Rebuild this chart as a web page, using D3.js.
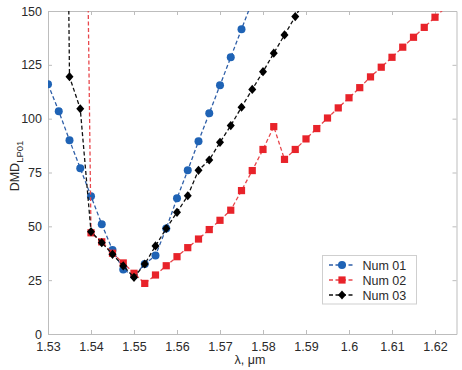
<!DOCTYPE html>
<html><head><meta charset="utf-8">
<script src="https://cdn.jsdelivr.net/npm/d3@7"></script>
<style>
html,body{margin:0;padding:0;background:#fff;}
svg text{font-family:"Liberation Sans",Arial,sans-serif;}
</style></head>
<body><svg id="c" width="462" height="370"></svg>
<script>
const xTicks = [1.53,1.54,1.55,1.56,1.57,1.58,1.59,1.60,1.61,1.62];
const xTickLabels = ["1.53","1.54","1.55","1.56","1.57","1.58","1.59","1.6","1.61","1.62"];
const yTicks = [0,25,50,75,100,125,150];

const num01X = [1.53,1.5325,1.535,1.5375,1.54,1.5425,1.545,1.5475,1.55,1.5525,1.555,1.5575,1.56,1.5625,1.565,1.5675,1.57,1.5725,1.575,1.5775];
const num01Y = [116,103.5,90,77,64,51,39,30,27,32.5,36.5,49,63,76,89.5,102.5,115.5,128.5,141.5,154.5];

const num02X = [1.5375,1.54,1.5425,1.545,1.5475,1.55,1.5525,1.555,1.5575,1.56,1.5625,1.565,1.5675,1.57,1.5725,1.575,1.5775,1.58,1.5825,1.585,1.5875,1.59,1.5925,1.595,1.5975,1.6,1.6025,1.605,1.6075,1.61,1.6125,1.615,1.6175,1.62,1.6225];
const num02Y = [450,47,42.8,37.5,33,28.2,23.5,27.4,31.7,35.9,40.1,44.1,48.5,52.8,57.5,66.6,75.9,85.7,96.3,81.1,85.7,90.6,95.4,100.3,105,109.7,114.4,119.4,123.9,128.5,133.2,137.8,142.4,147.1,151.7];

const num03X = [1.5325,1.535,1.5375,1.54,1.5425,1.545,1.5475,1.55,1.5525,1.555,1.5575,1.56,1.5625,1.565,1.5675,1.57,1.5725,1.575,1.5775,1.58,1.5825,1.585,1.5875,1.59];
const num03Y = [600,119.5,104.6,47.5,42.4,37,31.6,26.3,32.5,40.9,49,56.5,64.2,76,80.8,89,96.8,105.3,113.6,121.8,130.4,138.9,147.4,156];

const seriesNames = ["Num 01","Num 02","Num 03"];
const lineColors = ["#2f5fa8","#e8474c","#111111"];
const markerColors = ["#1f63b5","#e8232a","#000000"];
const markerTypes = ["circle","square","diamond"];

const svg = d3.select("#c");
const L=48, R=456.5, T=11, B=334;
const x = d3.scaleLinear().domain([1.53,1.625]).range([L,R]);
const y = d3.scaleLinear().domain([0,150]).range([B,T]);
const axisColor = "#bdbdbd", textColor="#2a2a2a";

svg.append("defs").append("clipPath").attr("id","clip")
  .append("rect").attr("x",L).attr("y",T).attr("width",R-L).attr("height",B-T);

// axes with inward ticks
const gB = svg.append("g").attr("transform",`translate(0,${B})`)
  .call(d3.axisBottom(x).tickValues(xTicks).tickSizeInner(-4).tickSizeOuter(0).tickPadding(8).tickFormat((d,i)=>xTickLabels[i]));
const gT = svg.append("g").attr("transform",`translate(0,${T})`)
  .call(d3.axisTop(x).tickValues(xTicks).tickSizeInner(-4).tickSizeOuter(0).tickFormat(""));
const gL = svg.append("g").attr("transform",`translate(${L},0)`)
  .call(d3.axisLeft(y).tickValues(yTicks).tickSizeInner(-4).tickSizeOuter(0).tickPadding(6));
const gR = svg.append("g").attr("transform",`translate(${R},0)`)
  .call(d3.axisRight(y).tickValues(yTicks).tickSizeInner(-4).tickSizeOuter(0).tickFormat(""));
[gB,gT,gL,gR].forEach(g=>{
  g.select(".domain").attr("stroke",axisColor).attr("stroke-width",1);
  g.selectAll(".tick line").attr("stroke",axisColor);
  g.selectAll(".tick text").attr("fill",textColor).attr("font-size",12.5)
   .attr("font-family","Liberation Sans, Arial, sans-serif");
});

const plot = svg.append("g").attr("clip-path","url(#clip)");
const data = [[num01X,num01Y],[num02X,num02Y],[num03X,num03Y]];
const line = d3.line().x(d=>x(d[0])).y(d=>y(d[1]));

function marker(g, type, cx, cy, color){
  if(type==="circle") g.append("circle").attr("cx",cx).attr("cy",cy).attr("r",4).attr("fill",color);
  else if(type==="square") g.append("rect").attr("x",cx-3.6).attr("y",cy-3.6).attr("width",7.2).attr("height",7.2).attr("fill",color);
  else g.append("path").attr("d",`M${cx},${cy-4.6}L${cx+4},${cy}L${cx},${cy+4.6}L${cx-4},${cy}Z`).attr("fill",color);
}

data.forEach((s,i)=>{
  const pts = s[0].map((v,j)=>[v,s[1][j]]);
  plot.append("path").datum(pts).attr("d",line).attr("fill","none")
    .attr("stroke",lineColors[i]).attr("stroke-width",1.3).attr("stroke-dasharray","4,2.5");
  const mg = plot.append("g");
  pts.forEach(p=>{ if(p[1]<=160) marker(mg, markerTypes[i], x(p[0]), y(p[1]), markerColors[i]); });
});

// Axis titles
svg.append("text").attr("x",250).attr("y",364).attr("text-anchor","middle")
  .attr("font-size",12.5).attr("fill",textColor).text("λ, μm");
const yt = svg.append("text").attr("transform","translate(19,166) rotate(-90)")
  .attr("text-anchor","middle").attr("font-size",12.5).attr("fill",textColor);
yt.append("tspan").text("DMD");
yt.append("tspan").attr("font-size",9.5).attr("dy",4).text("LP01");

// Legend
const lg = svg.append("g");
lg.append("rect").attr("x",322.5).attr("y",255.5).attr("width",94).attr("height",48.5)
  .attr("fill","#fff").attr("stroke","#cfcfcf");
seriesNames.forEach((n,i)=>{
  const cy = 265 + i*15;
  lg.append("line").attr("x1",329).attr("x2",355).attr("y1",cy).attr("y2",cy)
    .attr("stroke",lineColors[i]).attr("stroke-width",1.3).attr("stroke-dasharray","4,2.5");
  marker(lg, markerTypes[i], 342, cy, markerColors[i]);
  lg.append("text").attr("x",362.5).attr("y",cy+4.5).attr("font-size",12.5).attr("fill",textColor).text(n);
});
</script></body></html>
